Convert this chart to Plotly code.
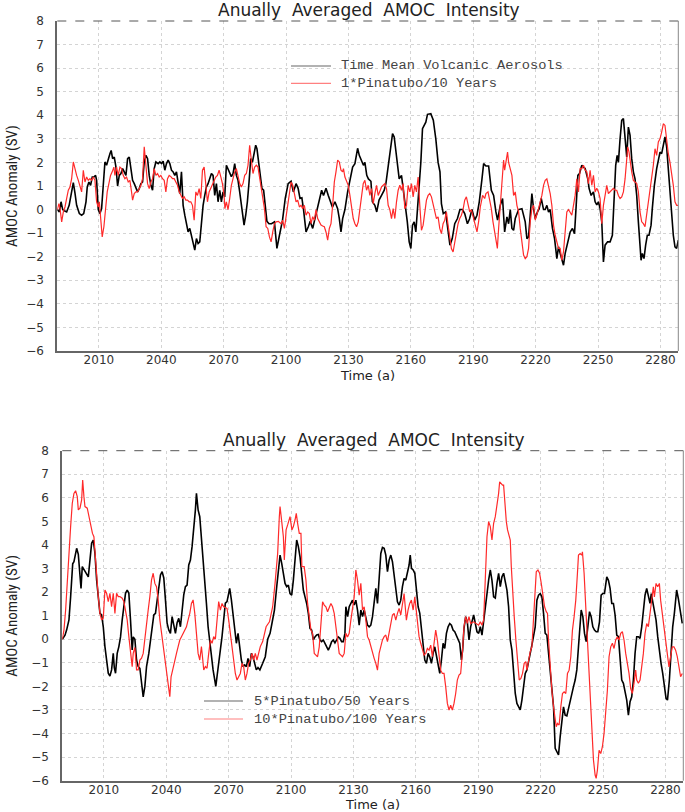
import plotly.graph_objects as go

# ---------------- data ----------------
tick_years = [2010, 2040, 2070, 2100, 2130, 2160, 2190, 2220, 2250, 2280]
y_ticks = list(range(-6, 9))

# Top panel: Time Mean Volcanic Aerosols (black)
top_black_year = [1990.0,1991.0,1991.8,1992.6,1993.4,1994.5,1995.7,1996.9,1997.7,1998.5,1999.3,2000.6,2001.7,2002.7,2003.8,2004.4,2005.2,2006.0,2006.8,2007.6,2008.4,2008.9,2009.7,2010.5,2011.3,2012.1,2012.9,2013.7,2014.5,2015.3,2015.9,2016.6,2017.4,2018.2,2019.0,2019.8,2020.6,2021.4,2022.2,2023.0,2023.8,2024.6,2025.4,2026.2,2027.0,2027.8,2028.6,2029.4,2030.2,2031.0,2031.8,2032.6,2033.4,2034.2,2035.0,2035.8,2036.6,2037.4,2038.5,2039.3,2040.1,2040.9,2041.7,2042.5,2043.3,2044.1,2044.9,2045.7,2046.5,2047.3,2048.0,2048.9,2049.7,2050.5,2051.3,2052.1,2052.9,2053.7,2054.5,2055.3,2056.1,2056.9,2057.7,2058.5,2059.3,2060.1,2060.9,2061.7,2062.5,2063.3,2064.1,2064.9,2065.7,2066.5,2067.3,2068.1,2068.9,2069.7,2070.5,2071.3,2072.1,2072.9,2073.7,2074.5,2075.3,2076.1,2076.9,2077.7,2078.5,2079.2,2079.8,2080.6,2081.4,2082.2,2083.0,2083.8,2084.6,2085.4,2086.0,2086.8,2087.6,2088.4,2089.2,2090.0,2090.8,2091.8,2093.0,2094.4,2095.6,2096.8,2098.3,2099.6,2101.0,2102.4,2103.5,2104.8,2105.8,2106.7,2107.6,2108.4,2109.6,2110.7,2111.6,2112.8,2113.9,2115.2,2116.0,2117.1,2118.0,2119.2,2120.3,2121.2,2122.3,2123.5,2124.8,2125.6,2126.4,2127.2,2128.3,2129.6,2130.8,2132.0,2133.1,2134.4,2135.2,2136.3,2137.2,2137.9,2138.8,2139.6,2140.8,2141.5,2142.7,2143.6,2144.7,2145.9,2147.2,2148.0,2149.1,2150.0,2151.2,2152.0,2152.8,2153.6,2154.4,2155.5,2156.8,2158.3,2159.2,2160.0,2160.8,2161.6,2162.4,2163.2,2164.0,2164.8,2165.6,2166.4,2167.2,2168.0,2169.6,2170.8,2172.0,2173.1,2174.0,2174.7,2175.6,2176.7,2177.6,2178.8,2179.9,2181.1,2182.4,2183.6,2184.8,2185.9,2187.2,2188.2,2189.4,2190.7,2191.8,2192.9,2194.2,2195.0,2196.1,2197.4,2198.7,2199.8,2200.9,2201.7,2203.0,2204.1,2205.1,2206.2,2207.0,2207.8,2208.6,2209.4,2210.2,2211.0,2211.8,2213.4,2214.2,2215.0,2215.8,2216.6,2217.4,2218.2,2219.0,2219.8,2220.9,2221.7,2222.7,2223.8,2224.6,2225.4,2226.2,2227.0,2228.1,2229.1,2230.2,2231.0,2231.8,2232.6,2233.4,2234.2,2235.5,2236.6,2237.7,2238.7,2239.5,2240.3,2241.1,2242.2,2243.0,2243.8,2245.1,2245.7,2246.7,2247.8,2248.6,2249.4,2250.2,2251.0,2251.8,2252.6,2253.4,2254.6,2255.8,2256.9,2257.9,2258.5,2259.2,2259.8,2260.6,2261.4,2262.2,2263.0,2263.8,2264.6,2265.4,2266.2,2267.0,2267.8,2268.6,2269.4,2270.2,2270.7,2271.3,2272.1,2272.9,2273.7,2274.5,2275.5,2276.1,2277.1,2278.2,2279.0,2279.8,2280.6,2281.4,2282.2,2283.0,2283.8,2284.6,2285.4,2286.2,2287.0,2287.8,2288.6]
top_black_val = [0.0,-0.1,0.33,0.0,-0.05,-0.1,0.18,0.75,1.14,0.7,0.18,-0.17,-0.24,-0.17,0.33,0.96,1.17,1.03,1.38,1.38,1.45,1.24,0.0,-0.17,0.04,1.03,2.02,1.88,2.16,2.37,2.51,2.16,2.23,1.8,1.0,1.45,1.53,1.74,1.6,1.45,2.16,2.23,1.74,1.24,1.1,0.96,0.75,0.89,1.1,1.17,2.02,2.3,2.16,1.45,1.03,0.82,1.74,2.02,1.95,2.02,1.95,2.05,1.67,1.95,2.1,1.95,1.67,1.6,1.45,1.6,1.17,0.68,1.6,0.18,-0.24,-0.6,-0.95,-0.8,-1.09,-1.37,-1.72,-1.23,-1.44,-1.37,-0.52,0.18,0.6,0.96,1.1,1.31,1.53,1.45,0.6,1.1,0.33,0.82,0.33,0.75,0.54,1.88,1.74,1.6,1.4,1.53,1.95,1.45,1.24,0.75,0.18,-0.38,-0.66,-0.24,0.33,1.17,2.16,2.0,2.37,2.73,2.58,2.02,1.4,0.89,0.82,0.0,-0.5,-0.6,-0.6,-0.52,-1.65,-1.1,-0.45,0.47,1.1,1.2,0.75,1.1,0.9,0.47,0.5,0.0,-0.95,-0.73,-0.5,-0.8,-0.38,0.11,0.33,0.82,0.6,0.9,0.6,0.33,0.1,0.33,0.04,-0.38,-0.95,-0.38,0.0,0.75,1.24,1.8,1.95,2.6,2.3,2.1,1.88,2.0,1.45,1.3,1.2,0.33,0.18,-0.1,0.4,0.6,0.82,1.1,1.8,2.44,3.22,3.08,2.44,2.0,1.3,1.45,0.6,-0.52,-1.37,-1.65,-0.66,-0.52,-0.95,0.0,1.38,2.0,3.43,3.57,3.71,4.04,4.07,3.79,3.0,2.0,1.6,0.25,-0.17,-0.1,-0.66,-1.51,-1.23,-0.6,-0.38,0.0,0.0,-0.17,-0.6,-0.4,0.0,-0.45,-0.24,0.33,1.3,1.95,1.85,1.85,0.82,0.6,-0.1,-0.45,0.18,0.47,-0.95,-0.31,-0.6,0.0,-0.8,-0.88,-0.38,-0.17,0.0,0.04,-0.24,-0.52,-1.23,-1.16,-0.24,0.68,0.04,-0.38,-0.1,0.04,0.47,0.0,0.0,0.18,-0.1,0.0,-0.8,-1.23,-2.08,-1.58,-1.86,-2.15,-2.36,-1.86,-1.37,-0.95,-0.8,-1.02,0.18,1.45,1.53,1.88,1.8,1.74,1.3,0.9,0.6,0.75,0.33,0.2,0.33,0.04,-0.52,-2.22,-1.51,-1.37,-1.37,-1.09,0.75,1.88,2.3,2.0,3.0,3.79,3.86,2.87,2.23,3.5,3.15,2.16,1.6,1.3,0.6,-0.52,-1.65,-2.15,-1.86,-2.08,-1.51,-1.09,-1.09,-0.66,0.04,1.03,1.74,2.16,2.44,2.37,2.8,3.08,2.66,1.74,0.75,-0.24,-1.09,-1.58,-1.65,-1.3]

# Top panel: 1*Pinatubo/10 Years (red)
top_red_year = [1990.0,1990.8,1991.3,1992.1,1992.9,1993.7,1994.5,1995.3,1996.1,1996.9,1997.7,1998.5,1999.3,2000.1,2000.9,2001.7,2002.5,2003.3,2004.1,2004.9,2005.7,2006.5,2007.3,2008.1,2008.9,2009.7,2010.2,2010.8,2011.6,2012.4,2013.2,2014.0,2014.8,2015.6,2016.4,2017.2,2017.7,2018.5,2019.3,2020.1,2020.9,2021.7,2022.5,2023.3,2024.1,2024.9,2025.7,2026.2,2027.0,2027.8,2028.6,2029.4,2030.2,2031.0,2031.8,2032.6,2033.4,2034.2,2035.0,2035.8,2036.6,2037.4,2038.2,2039.0,2039.8,2040.6,2041.4,2042.2,2043.0,2043.8,2044.6,2045.4,2046.2,2047.0,2047.8,2048.6,2049.4,2050.2,2051.0,2051.8,2052.6,2053.4,2054.2,2055.0,2055.8,2056.6,2057.4,2058.2,2059.0,2059.8,2060.6,2061.4,2062.2,2063.0,2063.8,2064.6,2065.4,2066.2,2067.0,2067.8,2068.6,2069.4,2070.2,2070.6,2071.3,2072.1,2072.9,2073.7,2074.5,2075.3,2076.1,2076.9,2077.7,2078.5,2079.3,2080.1,2080.9,2081.7,2082.5,2083.3,2084.1,2084.9,2085.7,2086.5,2087.3,2088.1,2088.9,2089.6,2090.4,2091.2,2092.0,2092.8,2093.6,2094.4,2095.2,2096.3,2097.6,2098.4,2099.2,2100.0,2100.8,2101.6,2102.4,2103.2,2104.0,2104.8,2105.6,2106.4,2107.2,2108.0,2108.8,2109.6,2110.4,2111.2,2112.0,2112.8,2113.6,2114.4,2115.2,2116.0,2116.8,2117.6,2118.4,2119.2,2120.0,2120.8,2121.6,2122.4,2123.2,2124.0,2124.8,2125.6,2126.4,2127.2,2127.6,2128.3,2129.1,2129.9,2130.7,2131.5,2132.3,2133.1,2133.9,2134.7,2135.5,2136.3,2137.1,2137.9,2138.7,2139.5,2140.3,2141.1,2141.9,2142.7,2143.5,2144.3,2145.1,2145.9,2146.7,2147.5,2148.3,2149.1,2149.9,2150.7,2151.5,2152.3,2153.1,2153.9,2154.7,2155.5,2156.3,2157.1,2157.9,2158.7,2159.5,2160.3,2161.1,2161.9,2162.7,2163.5,2164.3,2165.1,2165.9,2166.7,2167.5,2168.3,2169.1,2169.9,2170.7,2171.5,2172.3,2173.1,2173.9,2174.7,2175.5,2176.3,2177.1,2177.9,2178.7,2179.5,2180.3,2181.1,2181.9,2182.7,2183.5,2184.3,2185.1,2185.9,2186.7,2187.5,2188.3,2189.1,2189.8,2190.7,2191.8,2192.6,2193.4,2194.5,2195.5,2196.1,2197.1,2197.9,2198.7,2199.5,2200.3,2200.9,2201.6,2202.2,2203.0,2203.8,2204.6,2205.1,2205.7,2206.5,2207.0,2207.8,2208.6,2209.4,2210.2,2211.0,2211.8,2212.6,2213.4,2214.2,2215.0,2215.8,2216.6,2217.4,2218.2,2219.0,2219.8,2220.6,2221.4,2222.2,2223.0,2223.8,2224.6,2225.4,2226.2,2227.0,2227.8,2228.6,2229.4,2230.2,2231.0,2231.8,2232.6,2233.4,2234.2,2235.0,2235.8,2236.6,2237.4,2238.2,2239.0,2239.8,2240.6,2241.4,2242.2,2243.0,2243.8,2244.6,2245.4,2246.2,2247.0,2247.8,2248.6,2249.4,2250.2,2251.0,2251.8,2252.6,2253.4,2254.2,2255.0,2255.8,2256.6,2257.4,2258.2,2259.0,2259.8,2260.6,2261.4,2262.2,2263.0,2263.8,2264.3,2264.9,2265.4,2266.2,2267.0,2267.8,2268.6,2269.4,2270.2,2271.0,2271.8,2272.6,2273.4,2274.2,2275.0,2275.8,2276.6,2277.4,2278.2,2279.0,2279.8,2280.6,2281.4,2282.2,2283.0,2283.8,2284.6,2285.4,2286.2,2287.0,2287.8,2288.6]
top_red_val = [0.0,0.25,0.05,-0.52,-0.1,0.11,0.47,0.82,0.96,1.31,2.02,1.67,1.45,1.24,1.03,0.75,1.67,1.17,1.38,1.24,1.31,1.24,1.38,1.24,0.33,0.11,0.33,-0.24,-1.16,-0.73,0.18,0.75,1.1,1.45,1.6,1.8,1.45,1.8,1.45,1.8,1.74,1.45,1.31,1.38,1.17,1.24,0.75,0.4,0.68,0.75,0.75,0.89,1.03,1.31,2.66,1.88,1.1,0.89,1.17,1.31,1.74,1.45,1.53,1.38,1.45,1.31,1.24,0.75,1.31,1.45,1.4,1.31,1.31,1.17,1.03,0.75,0.6,0.47,0.54,0.4,0.4,0.33,0.33,0.18,-0.45,0.75,0.6,0.89,0.47,1.67,1.8,1.03,0.33,0.75,0.89,1.1,1.24,1.38,1.45,1.67,1.4,1.1,0.6,0.04,0.33,0.0,0.47,1.03,1.31,1.6,1.74,1.45,1.1,0.96,1.1,1.45,1.53,1.88,2.73,2.1,1.53,1.8,1.88,1.8,1.31,0.89,0.33,0.04,-0.73,-0.8,-1.16,-1.37,-0.95,-0.6,-0.52,-0.5,-0.6,-0.45,-0.8,-0.31,0.18,0.75,1.17,1.03,0.6,0.33,0.4,0.11,0.18,0.04,0.18,-0.24,-0.1,-0.17,-0.6,-0.3,-0.45,0.0,-0.38,-0.52,-0.66,-0.7,-0.73,-0.95,-1.3,-0.8,-0.6,0.18,1.17,1.6,2.1,2.02,1.67,1.6,1.74,1.38,1.17,1.03,0.6,0.04,-0.38,-0.6,-0.73,-0.52,0.0,0.47,1.1,1.24,0.82,1.03,0.6,0.89,0.25,0.68,1.03,0.6,0.82,0.96,1.03,1.1,0.89,0.18,0.0,-0.38,0.04,-0.38,0.33,0.82,1.03,0.82,1.1,0.04,0.18,1.03,0.75,1.1,0.54,1.03,0.75,1.38,0.18,-0.88,-0.66,0.0,0.4,0.6,0.68,0.54,0.18,-0.1,-0.38,-0.31,-0.8,-1.02,-0.6,-0.45,-0.1,-0.66,-1.23,-1.65,-1.8,-1.37,-0.95,-0.6,-0.38,-0.24,0.0,0.4,0.54,0.18,-0.1,0.0,-0.28,-0.6,-0.95,-0.5,0.11,0.6,0.47,0.68,0.75,0.4,0.04,-0.52,-0.95,-1.37,-1.65,-0.8,0.33,1.3,2.1,1.67,2.0,2.44,2.0,1.74,1.45,0.6,0.75,0.18,-0.1,-0.8,-1.51,-1.93,-2.08,-2.0,-1.65,-0.52,0.04,0.18,-0.45,-0.24,0.04,0.33,0.6,1.03,1.24,1.3,1.03,0.68,0.18,-0.66,-1.09,-1.44,-1.65,-1.65,-2.15,-1.79,-0.8,-0.1,0.0,-0.1,-0.24,0.18,0.6,1.3,0.75,1.74,1.74,1.88,1.67,1.6,1.1,1.67,1.03,1.45,0.75,0.9,0.75,0.47,-0.6,0.18,0.6,1.03,0.68,0.75,0.82,0.9,0.82,0.82,0.6,0.47,0.54,0.75,1.3,2.0,2.66,2.44,2.0,1.6,1.24,1.17,1.1,0.75,-0.1,-0.52,-0.6,-0.73,-0.24,0.33,0.82,1.3,1.88,2.58,2.3,2.87,3.0,3.29,3.64,3.57,2.87,2.37,2.0,1.6,1.03,0.33,0.18,0.18]

# Bottom panel: 5*Pinatubo/50 Years (black)
bot_black_year = [1990.0,1991.3,1992.1,1993.2,1994.0,1995.0,1995.6,1996.2,1996.9,1997.7,1998.5,1999.0,1999.6,2000.4,2001.4,2002.5,2003.3,2004.1,2004.9,2005.7,2006.5,2007.3,2008.1,2008.9,2009.7,2010.5,2011.3,2012.1,2012.9,2013.7,2014.5,2015.0,2015.6,2016.4,2017.2,2018.0,2018.8,2019.6,2020.4,2021.2,2022.0,2022.8,2023.6,2024.1,2024.9,2025.7,2026.5,2027.3,2028.1,2028.9,2029.7,2030.5,2031.6,2032.4,2033.2,2034.0,2034.8,2035.6,2036.4,2037.2,2038.0,2038.8,2039.6,2040.4,2041.2,2042.0,2042.8,2043.6,2044.4,2045.2,2046.0,2046.8,2047.6,2048.4,2049.2,2050.0,2050.8,2051.6,2052.4,2053.2,2054.0,2054.5,2055.3,2056.1,2056.9,2057.7,2058.5,2059.3,2060.1,2060.9,2061.7,2062.5,2063.3,2063.8,2064.4,2065.2,2066.0,2066.8,2067.6,2068.4,2069.2,2070.0,2070.5,2071.3,2072.1,2072.9,2073.7,2074.5,2075.3,2076.1,2076.9,2077.7,2078.5,2079.3,2080.1,2080.9,2081.7,2082.5,2083.3,2084.1,2085.0,2086.35,2087.6,2088.75,2089.9,2090.8,2092.0,2093.1,2094.0,2094.7,2095.5,2096.3,2097.1,2097.9,2098.7,2099.5,2100.3,2101.1,2101.9,2102.7,2103.5,2104.3,2105.1,2105.9,2106.7,2107.5,2108.3,2109.1,2109.9,2110.7,2111.5,2112.3,2113.1,2113.9,2114.7,2115.5,2116.3,2117.1,2117.9,2118.7,2119.5,2120.3,2121.1,2121.9,2122.7,2123.5,2124.3,2125.1,2125.9,2126.35,2127.2,2127.95,2128.75,2129.55,2130.35,2131.15,2131.95,2132.75,2133.55,2134.35,2135.15,2135.95,2136.75,2137.55,2138.35,2139.15,2139.95,2140.75,2141.55,2142.35,2143.15,2143.95,2144.75,2145.55,2146.35,2147.15,2147.95,2148.75,2149.55,2150.35,2151.15,2151.95,2152.75,2153.55,2154.35,2155.15,2155.95,2156.75,2157.3,2157.9,2158.7,2159.5,2160.3,2161.1,2161.9,2162.7,2163.5,2164.3,2165.1,2165.9,2166.7,2167.5,2168.3,2169.1,2169.9,2170.7,2171.5,2172.3,2173.1,2173.9,2174.7,2175.5,2176.3,2177.1,2177.9,2178.7,2179.5,2180.3,2181.1,2181.9,2182.5,2183.15,2183.95,2184.75,2185.55,2186.35,2187.0,2187.8,2188.6,2189.4,2190.2,2191.0,2191.8,2192.6,2193.4,2194.2,2195.0,2195.8,2196.6,2197.4,2198.2,2199.0,2199.8,2200.6,2201.4,2202.2,2203.0,2203.8,2204.6,2205.4,2206.2,2207.0,2207.8,2208.6,2209.4,2210.2,2211.0,2211.8,2212.6,2213.4,2214.2,2215.0,2215.8,2216.6,2217.4,2218.2,2219.0,2219.8,2220.6,2221.4,2222.2,2223.0,2223.8,2224.6,2225.4,2226.2,2227.0,2227.8,2228.6,2229.4,2230.2,2231.0,2231.8,2232.6,2233.4,2234.2,2235.0,2235.8,2236.6,2237.4,2238.2,2238.9,2239.5,2240.3,2241.1,2241.9,2242.7,2243.5,2244.3,2245.1,2245.9,2246.7,2247.5,2248.3,2249.1,2249.9,2250.7,2251.8,2252.6,2253.4,2254.2,2255.0,2255.8,2256.6,2257.4,2258.2,2259.0,2259.8,2260.6,2261.4,2262.2,2263.0,2263.8,2264.6,2265.4,2266.2,2267.0,2267.8,2268.6,2269.4,2270.2,2271.0,2271.8,2272.6,2273.2,2273.8,2274.7,2275.5,2276.3,2277.1,2277.9,2278.7,2279.5,2280.3,2281.0,2281.9,2282.7,2283.5,2284.3,2285.0,2285.4,2286.2,2287.0,2288.1]
bot_black_val = [0.0,0.17,0.4,0.82,1.8,3.2,3.29,3.5,3.86,3.6,2.8,2.16,3.08,2.95,2.8,2.65,3.36,4.07,4.21,3.65,2.52,1.67,1.1,1.03,0.53,-0.31,-1.02,-1.44,-1.56,-1.3,-0.6,-1.2,-1.44,-0.6,-0.31,0.1,0.82,1.38,1.95,2.09,1.95,0.82,-0.45,0.1,0.0,-0.88,-1.16,-1.23,-1.87,-2.44,-2.0,-1.16,-0.6,0.0,0.53,1.03,1.1,1.67,2.38,2.73,2.87,2.6,1.67,0.68,0.39,0.25,0.96,0.53,0.25,0.7,0.89,0.53,1.24,1.88,2.23,2.3,3.15,3.36,3.93,4.64,5.49,6.19,5.49,5.2,4.35,3.36,2.52,1.53,0.53,-0.17,-0.6,-1.3,-1.72,-2.0,-1.58,-0.88,-0.45,0.11,0.82,1.53,1.6,1.95,2.16,1.67,1.1,0.53,-0.17,0.25,-0.45,-0.88,-1.16,-1.09,-1.16,-0.81,-1.16,-0.6,-0.75,-1.02,-1.3,-1.2,-1.3,-1.02,-0.74,0.0,0.25,0.67,1.24,2.23,3.15,3.57,3.22,2.8,2.37,2.23,2.3,1.94,1.87,2.51,3.5,4.21,3.93,3.5,2.8,2.09,1.8,1.52,1.1,0.46,0.39,-0.03,0.1,0.18,0.2,-0.03,-0.1,-0.03,-0.17,-0.3,-0.46,-0.3,-0.1,-0.03,-0.15,-0.03,0.1,0.04,-0.1,-0.1,0.25,1.38,0.96,1.38,1.52,1.66,1.45,1.66,1.24,0.6,1.24,0.96,1.24,0.88,0.6,0.53,0.6,0.96,1.66,2.16,1.52,2.65,3.64,3.9,3.86,3.57,2.87,3.36,3.57,3.29,2.65,1.94,1.59,1.45,1.66,2.23,2.58,2.51,2.8,3.15,3.57,3.01,2.94,2.8,2.09,1.38,1.1,0.39,-0.32,-0.88,-1.02,-0.6,-0.75,-1.02,-0.6,-0.32,-0.7,-1.16,-1.45,-0.88,-0.17,-0.39,0.25,0.53,0.67,0.6,0.39,0.32,0.18,-0.03,-0.17,-0.88,-0.46,0.46,0.96,0.74,-0.03,0.53,0.8,1.03,0.67,0.32,0.25,0.53,0.18,0.74,1.52,2.09,2.51,2.94,2.5,1.8,1.75,2.37,2.8,2.23,2.65,2.8,2.51,2.09,1.38,-0.03,-0.46,-1.45,-2.3,-2.72,-2.87,-3.0,-2.58,-1.87,-1.45,-1.3,-0.88,-0.6,-0.25,0.11,0.53,1.66,1.87,1.94,1.8,1.1,0.25,0.18,-0.6,-1.45,-2.01,-2.87,-4.63,-4.77,-4.91,-4.13,-3.57,-2.87,-3.22,-3.25,-2.94,-2.58,-2.3,-2.01,-1.73,-1.3,-0.32,0.74,1.24,0.96,0.25,-0.1,0.53,1.17,0.96,0.53,0.39,0.32,0.32,0.74,1.87,1.94,1.94,2.65,2.5,2.16,1.52,1.52,1.03,0.18,0.11,-0.74,-1.73,-1.87,-2.23,-2.58,-3.22,-2.65,-2.44,-1.73,-0.6,0.11,0.11,0.04,0.53,1.38,1.87,2.16,1.8,1.52,1.94,1.66,1.1,0.81,0.11,-0.6,-1.02,-1.45,-2.01,-2.51,-2.58,-1.73,-0.6,0.53,1.1,1.66,2.09,1.73,1.24,0.67]

# Bottom panel: 10*Pinatubo/100 Years (red)
bot_red_year = [1990.0,1990.8,1991.6,1992.4,1993.2,1994.0,1994.8,1995.6,1996.4,1997.2,1997.7,1998.5,1999.3,1999.8,2000.4,2000.9,2002.0,2002.9,2003.6,2004.5,2005.2,2005.7,2006.5,2007.3,2008.1,2008.9,2009.7,2010.5,2011.3,2012.1,2012.9,2013.7,2014.5,2015.3,2016.1,2016.9,2017.7,2018.8,2019.6,2020.4,2021.2,2022.0,2022.8,2023.6,2024.1,2024.9,2025.7,2026.5,2027.3,2028.1,2028.9,2029.7,2030.5,2031.3,2032.1,2032.9,2033.7,2034.5,2035.3,2036.1,2036.9,2037.7,2038.5,2039.3,2040.1,2040.9,2041.7,2042.3,2043.3,2044.1,2044.9,2045.7,2046.5,2047.3,2048.1,2048.9,2049.7,2050.5,2051.3,2052.1,2052.9,2053.7,2054.5,2055.3,2056.1,2056.9,2057.4,2058.0,2058.8,2059.6,2060.4,2061.2,2062.0,2062.8,2063.6,2064.4,2065.2,2066.0,2066.8,2067.6,2068.4,2069.2,2070.0,2070.8,2071.6,2072.4,2073.2,2074.0,2074.8,2075.6,2076.4,2077.2,2078.0,2078.8,2079.6,2080.4,2081.2,2082.0,2082.8,2083.6,2084.4,2085.2,2086.35,2087.2,2088.0,2089.6,2091.15,2092.3,2093.55,2094.35,2094.7,2095.5,2096.3,2096.75,2097.6,2098.35,2099.5,2100.4,2101.1,2101.9,2102.5,2103.15,2103.95,2104.75,2105.2,2106.3,2107.15,2107.95,2108.75,2109.55,2110.35,2111.15,2111.95,2112.75,2113.55,2114.35,2115.15,2115.95,2116.75,2117.55,2118.35,2119.15,2119.95,2120.75,2121.55,2122.35,2123.15,2123.95,2124.75,2125.55,2126.35,2127.15,2127.95,2128.75,2129.55,2130.35,2131.15,2131.95,2132.75,2133.55,2134.35,2135.15,2135.95,2136.75,2137.55,2138.35,2139.15,2139.95,2140.75,2141.55,2142.35,2143.15,2143.95,2144.75,2145.55,2146.35,2147.15,2147.95,2148.75,2149.55,2150.35,2151.15,2151.95,2152.75,2153.55,2154.35,2154.9,2155.45,2156.25,2157.05,2157.85,2158.7,2159.5,2160.0,2160.75,2161.55,2162.35,2163.15,2163.95,2164.75,2165.55,2166.35,2167.15,2167.95,2168.75,2169.55,2170.35,2171.15,2171.95,2172.75,2173.55,2174.35,2175.15,2175.95,2176.75,2177.55,2178.35,2179.15,2179.95,2180.75,2181.55,2182.35,2183.15,2183.95,2184.75,2185.55,2186.35,2187.8,2189.4,2190.2,2191.0,2191.8,2192.6,2193.4,2194.2,2195.0,2195.8,2196.6,2197.4,2198.2,2199.0,2199.8,2200.3,2201.0,2201.7,2202.2,2202.7,2203.5,2204.1,2204.9,2205.4,2205.9,2206.5,2207.3,2208.1,2208.9,2209.7,2210.5,2211.3,2212.1,2212.9,2213.4,2214.2,2215.0,2215.8,2216.6,2217.4,2217.9,2218.7,2219.5,2220.3,2221.1,2221.9,2222.7,2223.3,2223.8,2224.6,2225.4,2226.2,2227.0,2227.5,2228.1,2228.9,2229.7,2230.5,2231.3,2232.1,2232.9,2233.7,2234.5,2235.3,2236.1,2236.9,2237.7,2238.2,2239.0,2239.8,2240.1,2240.9,2241.7,2242.5,2243.3,2244.1,2244.9,2245.4,2246.2,2246.7,2247.3,2248.1,2248.9,2249.7,2250.5,2251.3,2252.1,2252.9,2253.7,2254.5,2255.3,2256.1,2256.9,2257.7,2258.5,2259.3,2260.1,2260.9,2261.7,2262.5,2263.3,2264.1,2264.9,2265.7,2266.2,2267.0,2267.8,2268.6,2269.4,2270.2,2271.0,2271.8,2272.6,2273.4,2274.2,2274.7,2275.5,2276.3,2277.1,2277.7,2278.5,2279.3,2280.1,2280.9,2281.7,2282.5,2283.3,2284.1,2284.9,2285.7,2286.5,2287.3,2288.1]
bot_red_val = [0.0,0.39,1.24,2.52,3.79,4.78,5.77,6.19,6.3,6.05,5.49,5.56,5.91,6.76,6.05,5.63,5.56,5.2,4.78,4.49,4.35,3.65,2.66,1.81,1.1,0.82,0.89,2.09,1.95,1.6,1.95,1.38,1.95,1.1,1.95,1.81,1.81,1.74,1.6,1.24,0.82,0.11,-0.6,-1.16,-0.6,-0.35,-1.3,-1.3,-0.88,-0.8,-0.6,0.11,0.82,1.24,1.81,2.52,2.8,2.37,2.23,1.67,0.82,0.25,-0.31,-0.88,-1.45,-2.01,-2.44,-1.59,-1.16,-0.88,-0.6,-0.31,-0.03,0.11,0.25,0.39,0.53,0.82,1.1,1.52,1.67,1.1,0.25,-0.6,-0.88,-0.31,-0.74,-1.3,-1.16,-1.23,-0.6,-0.03,-0.17,0.11,0.0,0.82,1.6,1.24,1.52,1.38,1.35,1.31,0.82,0.25,-0.46,-0.88,-1.45,-1.73,-1.59,-1.45,-1.02,-1.16,-1.73,-1.45,-1.02,-0.88,-0.6,-0.88,-0.6,-0.88,-0.6,-0.31,-0.1,0.3,0.53,0.74,1.38,2.37,3.64,5.2,5.63,5.0,4.35,3.36,4.64,4.85,5.2,4.64,4.78,5.06,5.34,4.92,4.49,4.49,3.08,3.08,2.51,1.52,0.96,0.39,0.25,-0.6,-0.67,-0.74,-0.32,0.81,1.59,1.45,1.38,1.17,1.31,1.52,1.38,1.1,0.53,-0.03,-0.6,-0.67,-0.74,-0.6,0.25,0.1,0.25,0.81,1.24,1.8,2.94,2.51,1.87,2.37,1.24,1.38,0.81,0.11,-0.03,-0.32,-0.6,-0.81,-1.02,-1.31,-0.6,-0.32,-0.03,0.11,0.18,-0.1,0.25,0.67,1.03,1.1,0.81,1.1,1.31,1.03,1.52,1.94,1.38,0.81,1.24,1.52,1.66,1.24,1.8,1.38,0.53,0.11,-0.17,-0.46,-0.67,-0.6,-0.39,-0.46,-0.25,-0.74,-0.25,0.39,-0.03,-0.74,-1.31,-1.45,-1.45,-2.01,-2.72,-3.0,-2.8,-3.0,-2.72,-2.3,-1.73,-1.52,-1.45,-0.6,0.53,0.96,0.67,0.96,0.67,0.74,0.67,0.6,0.74,0.6,0.81,2.51,4.35,4.99,4.78,4.21,4.92,5.2,5.63,6.19,6.68,6.61,6.54,6.54,5.77,4.99,4.64,4.42,4.21,3.08,1.94,0.96,-0.03,-0.88,-1.73,-1.66,-1.45,-1.02,-0.95,-1.31,-0.88,-0.53,-0.32,1.1,2.51,2.86,2.94,2.8,2.37,1.8,1.38,1.17,1.1,-0.03,-1.17,-2.16,-2.87,-3.57,-3.71,-3.57,-3.64,-2.87,-2.3,-2.23,-2.3,-1.45,-1.31,-0.74,0.39,0.96,1.66,2.8,3.57,3.64,3.57,3.71,2.8,1.38,-0.03,-1.17,-2.58,-3.99,-5.12,-5.76,-5.9,-5.55,-4.71,-4.85,-4.56,-3.99,-3.15,-2.16,-0.74,-0.32,-0.17,-0.39,-0.03,0.11,-0.03,0.25,0.32,-0.03,-0.6,-1.02,-1.45,-2.09,-2.3,-1.87,-1.31,-1.73,-1.87,-1.73,-1.17,-0.6,0.25,0.67,0.53,1.1,1.52,2.23,1.8,2.37,2.23,2.37,1.66,1.1,0.53,-0.03,-0.6,-1.17,-0.74,-0.32,-0.32,-0.46,-0.74,-1.17,-1.59,-1.45]

title_text = "Anually  Averaged  AMOC  Intensity"
x_title = "Time (a)"
y_title = "AMOC Anomaly (SV)"
top_names = ["Time Mean Volcanic Aerosols", "1*Pinatubo/10 Years"]
bot_names = ["5*Pinatubo/50 Years", "10*Pinatubo/100 Years"]

# ---------------- styling ----------------
W, H = 685, 812
BLACK = "#000000"
RED = "#ff2a2a"
TICK_FONT = dict(family="DejaVu Sans", size=12, color="#333333")
LEG_FONT = dict(family="Liberation Mono, DejaVu Sans Mono, monospace", size=13.7, color="#444444")


def px_x(p):
    return p / W


def px_y(p):
    return 1 - p / H


# plot-area boxes in pixels (left, right, top, bottom)
top_box = (57.3, 678.3, 21.0, 351.0)
bot_box = (62.3, 683.3, 450.7, 780.7)

fig = go.Figure()

fig.add_trace(go.Scatter(x=top_black_year, y=top_black_val, mode="lines",
                         line=dict(color=BLACK, width=1.6), xaxis="x", yaxis="y",
                         name=top_names[0], showlegend=False))
fig.add_trace(go.Scatter(x=top_red_year, y=top_red_val, mode="lines",
                         line=dict(color=RED, width=1.2), xaxis="x", yaxis="y",
                         name=top_names[1], showlegend=False))
fig.add_trace(go.Scatter(x=bot_black_year, y=bot_black_val, mode="lines",
                         line=dict(color=BLACK, width=1.6), xaxis="x2", yaxis="y2",
                         name=bot_names[0], showlegend=False))
fig.add_trace(go.Scatter(x=bot_red_year, y=bot_red_val, mode="lines",
                         line=dict(color=RED, width=1.2), xaxis="x2", yaxis="y2",
                         name=bot_names[1], showlegend=False))

GRID = dict(showgrid=True, gridcolor="#d4d4d4", griddash="dot", gridwidth=1)


def xaxis_cfg(box, anchor):
    return dict(domain=[px_x(box[0]), px_x(box[1])], anchor=anchor,
                range=[1990, 2288.6], tickmode="array", tickvals=tick_years,
                zeroline=False, showline=True, linecolor="#666666", linewidth=2,
                ticks="", ticklen=0, ticklabelstandoff=-3, tickfont=TICK_FONT,
                automargin=False, fixedrange=True, **GRID)


def yaxis_cfg(box, anchor):
    return dict(domain=[px_y(box[3]), px_y(box[2])], anchor=anchor,
                range=[-6, 8], tickmode="array", tickvals=y_ticks,
                zeroline=False, showline=True, linecolor="#666666", linewidth=2,
                ticks="", ticklen=0, ticklabelstandoff=9, tickfont=TICK_FONT,
                automargin=False, fixedrange=True, **GRID)


shapes = []
annotations = []
for box, xa, ya, names, leg_px in [
        (top_box, "x", "y", top_names, (291, 331, 339, 66, 83.3)),
        (bot_box, "x2", "y2", bot_names, (204, 243, 252, 701, 719))]:
    # dashed top frame and thin right frame
    shapes.append(dict(type="line", xref=f"{xa} domain", yref=f"{ya} domain",
                       x0=0, x1=1, y0=1, y1=1, line=dict(color="#555555", width=1, dash="dash")))
    shapes.append(dict(type="line", xref=f"{xa} domain", yref=f"{ya} domain",
                       x0=1, x1=1, y0=0, y1=1, line=dict(color="#888888", width=1)))
    # legend keys
    lx0, lx1, tx, ly1, ly2 = leg_px
    for ly, col, nm in [(ly1, "#666666", names[0]), (ly2, "#ff8080", names[1])]:
        shapes.append(dict(type="line", xref="paper", yref="paper",
                           x0=px_x(lx0), x1=px_x(lx1), y0=px_y(ly), y1=px_y(ly),
                           line=dict(color=col, width=1.2)))
        annotations.append(dict(text=nm, xref="paper", yref="paper",
                                x=px_x(tx), y=px_y(ly), xanchor="left", yanchor="middle",
                                showarrow=False, font=LEG_FONT))
    # titles
    cx = (box[0] + box[1]) / 2
    annotations.append(dict(text=title_text, xref="paper", yref="paper",
                            x=px_x(cx + 1), y=px_y(box[2] - 11), xanchor="center", yanchor="middle",
                            showarrow=False,
                            font=dict(family="DejaVu Sans", size=17, color="#222222")))
    annotations.append(dict(text=x_title, xref="paper", yref="paper",
                            x=px_x(cx), y=px_y(box[3] + 24), xanchor="center", yanchor="middle",
                            showarrow=False,
                            font=dict(family="DejaVu Sans", size=13, color="#222222")))
    annotations.append(dict(text=y_title, xref="paper", yref="paper",
                            x=px_x(12), y=px_y((box[2] + box[3]) / 2), xanchor="center",
                            yanchor="middle", textangle=-90, showarrow=False,
                            font=dict(family="Liberation Sans Narrow, Roboto Condensed, Liberation Sans",
                                      size=15, color="#222222")))

fig.update_layout(
    width=W, height=H,
    margin=dict(l=0, r=0, t=0, b=0),
    paper_bgcolor="white", plot_bgcolor="white",
    showlegend=False, hovermode=False,
    xaxis=xaxis_cfg(top_box, "y"), yaxis=yaxis_cfg(top_box, "x"),
    xaxis2=xaxis_cfg(bot_box, "y2"), yaxis2=yaxis_cfg(bot_box, "x2"),
    shapes=shapes, annotations=annotations,
)

fig.write_html("out.html", config={"displayModeBar": False},
               post_script="document.body.style.margin='0px';document.body.style.overflow='hidden';")
